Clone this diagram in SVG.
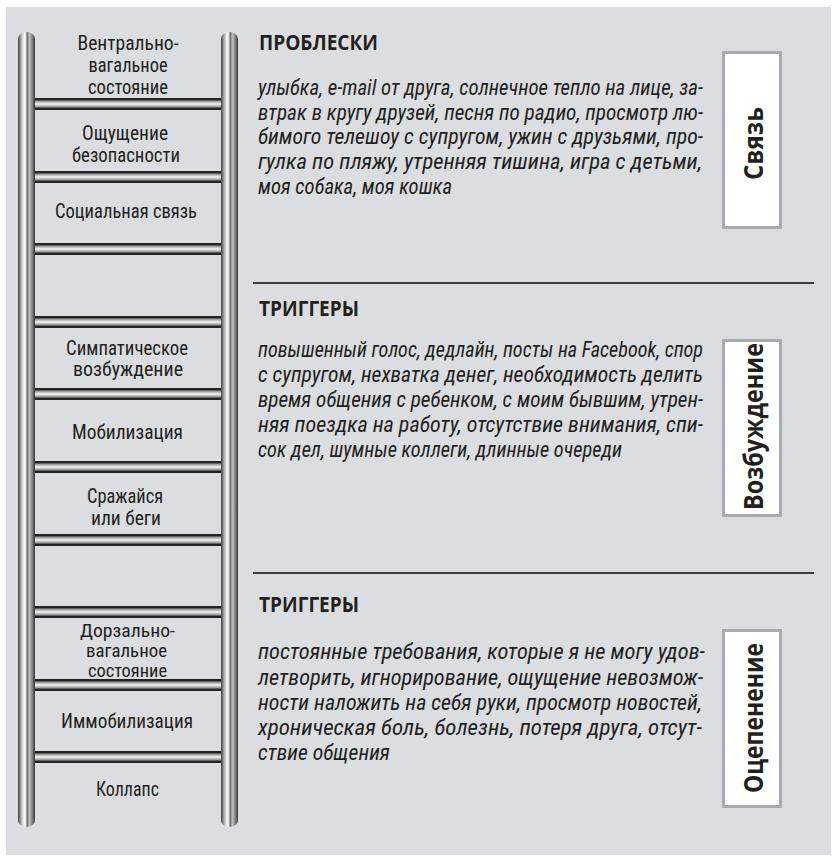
<svg xmlns="http://www.w3.org/2000/svg" width="838" height="862" viewBox="0 0 838 862">
<defs>
<linearGradient id="railGrad" x1="0" y1="0" x2="1" y2="0">
<stop offset="0" stop-color="#3a3a3a"/>
<stop offset="0.12" stop-color="#8a8a8a"/>
<stop offset="0.3" stop-color="#e6e6e6"/>
<stop offset="0.42" stop-color="#ffffff"/>
<stop offset="0.55" stop-color="#6a6a6a"/>
<stop offset="0.66" stop-color="#c4c4c4"/>
<stop offset="0.86" stop-color="#7a7a7a"/>
<stop offset="1" stop-color="#303030"/>
</linearGradient>
<linearGradient id="rungGrad" x1="0" y1="0" x2="0" y2="1">
<stop offset="0" stop-color="#232323"/>
<stop offset="0.16" stop-color="#232323"/>
<stop offset="0.24" stop-color="#8c8c8c"/>
<stop offset="0.5" stop-color="#f7f7f7"/>
<stop offset="0.76" stop-color="#8c8c8c"/>
<stop offset="0.84" stop-color="#232323"/>
<stop offset="1" stop-color="#232323"/>
</linearGradient>
</defs>
<style>
.lbl{font-family:"Liberation Sans Narrow","Roboto Condensed","DejaVu Sans Condensed",Roboto,sans-serif;font-size:21px;fill:#231f20;text-anchor:middle}
.tight{font-size:19px}
.head{font-family:"Open Sans","Noto Sans",sans-serif;font-weight:700;font-size:21px;fill:#231f20}
.body{font-family:"Liberation Sans Narrow","Roboto Condensed","DejaVu Sans Condensed",Roboto,sans-serif;font-style:italic;font-size:22px;fill:#231f20}
.vert{font-family:"Open Sans","Noto Sans",sans-serif;font-weight:700;font-size:27px;fill:#231f20;text-anchor:middle}
.box{fill:#ffffff;stroke:#a9abae;stroke-width:3}
.sep{stroke:#3c3c3c;stroke-width:2}
.rung{fill:url(#rungGrad)}
.rail{fill:url(#railGrad)}
</style>
<rect x="6" y="7" width="825" height="848" fill="#dcdde0"/>

<g id="ladder">
<rect class="rung" x="35" y="98" width="186" height="12"/>
<rect class="rung" x="35" y="171" width="186" height="12"/>
<rect class="rung" x="35" y="243" width="186" height="12"/>
<rect class="rung" x="35" y="316" width="186" height="12"/>
<rect class="rung" x="35" y="388" width="186" height="12"/>
<rect class="rung" x="35" y="461" width="186" height="12"/>
<rect class="rung" x="35" y="534" width="186" height="12"/>
<rect class="rung" x="35" y="606" width="186" height="12"/>
<rect class="rung" x="35" y="679" width="186" height="12"/>
<rect class="rung" x="35" y="751" width="186" height="12"/>
<rect class="rail" x="18" y="32" width="17" height="795" rx="8.5" ry="7"/>
<rect class="rail" x="221" y="32" width="17" height="795" rx="8.5" ry="7"/>
</g>

<g id="node-ventral">
<text class="lbl" x="128" y="50" textLength="101" lengthAdjust="spacingAndGlyphs">Вентрально-</text>
<text class="lbl" x="128" y="72" textLength="79" lengthAdjust="spacingAndGlyphs">вагальное</text>
<text class="lbl" x="128" y="94" textLength="80" lengthAdjust="spacingAndGlyphs">состояние</text>
</g>
<g id="node-safety">
<text class="lbl" x="125" y="140" textLength="86" lengthAdjust="spacingAndGlyphs">Ощущение</text>
<text class="lbl" x="126" y="162" textLength="108" lengthAdjust="spacingAndGlyphs">безопасности</text>
</g>
<g id="node-social">
<text class="lbl" x="126" y="218" textLength="142" lengthAdjust="spacingAndGlyphs">Социальная связь</text>
</g>
<g id="node-sympathetic">
<text class="lbl" x="127" y="355" textLength="122" lengthAdjust="spacingAndGlyphs">Симпатическое</text>
<text class="lbl" x="128" y="376" textLength="110" lengthAdjust="spacingAndGlyphs">возбуждение</text>
</g>
<g id="node-mobilization">
<text class="lbl" x="127.5" y="439" textLength="111" lengthAdjust="spacingAndGlyphs">Мобилизация</text>
</g>
<g id="node-fight">
<text class="lbl" x="125" y="503" textLength="76" lengthAdjust="spacingAndGlyphs">Сражайся</text>
<text class="lbl" x="126" y="525" textLength="70" lengthAdjust="spacingAndGlyphs">или беги</text>
</g>
<g id="node-dorsal">
<text class="lbl tight" x="127.5" y="637" textLength="95" lengthAdjust="spacingAndGlyphs">Дорзально-</text>
<text class="lbl tight" x="126.5" y="657" textLength="81" lengthAdjust="spacingAndGlyphs">вагальное</text>
<text class="lbl tight" x="127.5" y="677" textLength="79" lengthAdjust="spacingAndGlyphs">состояние</text>
</g>
<g id="node-immobilization">
<text class="lbl" x="127" y="728" textLength="132" lengthAdjust="spacingAndGlyphs">Иммобилизация</text>
</g>
<g id="node-collapse">
<text class="lbl" x="127.5" y="796" textLength="63" lengthAdjust="spacingAndGlyphs">Коллапс</text>
</g>

<g id="connectors">
<line class="sep" x1="253" y1="283" x2="814" y2="283"/>
<line class="sep" x1="253" y1="573" x2="814" y2="573"/>
</g>

<g id="section-glimmers">
<text class="head" x="259" y="50" textLength="119" lengthAdjust="spacingAndGlyphs">ПРОБЛЕСКИ</text>
<text class="body" x="258" y="95" textLength="445" lengthAdjust="spacingAndGlyphs">улыбка, e-mail от друга, солнечное тепло на лице, за-</text>
<text class="body" x="258" y="120" textLength="445" lengthAdjust="spacingAndGlyphs">втрак в кругу друзей, песня по радио, просмотр лю-</text>
<text class="body" x="258" y="144" textLength="445" lengthAdjust="spacingAndGlyphs">бимого телешоу с супругом, ужин с друзьями, про-</text>
<text class="body" x="258" y="169" textLength="444" lengthAdjust="spacingAndGlyphs">гулка по пляжу, утренняя тишина, игра с детьми,</text>
<text class="body" x="258" y="194" textLength="194" lengthAdjust="spacingAndGlyphs">моя собака, моя кошка</text>
</g>
<g id="node-connection">
<rect class="box" x="723.5" y="52.5" width="57" height="175"/>
<text class="vert" transform="translate(763,143.5) rotate(-90)" x="0" y="0" textLength="73" lengthAdjust="spacingAndGlyphs">Связь</text>
</g>

<g id="section-triggers-1">
<text class="head" x="259" y="316" textLength="100" lengthAdjust="spacingAndGlyphs">ТРИГГЕРЫ</text>
<text class="body" x="258" y="357" textLength="445" lengthAdjust="spacingAndGlyphs">повышенный голос, дедлайн, посты на Facebook, спор</text>
<text class="body" x="258" y="382" textLength="445" lengthAdjust="spacingAndGlyphs">с супругом, нехватка денег, необходимость делить</text>
<text class="body" x="258" y="407" textLength="445" lengthAdjust="spacingAndGlyphs">время общения с ребенком, с моим бывшим, утрен-</text>
<text class="body" x="258" y="432" textLength="445" lengthAdjust="spacingAndGlyphs">няя поездка на работу, отсутствие внимания, спи-</text>
<text class="body" x="258" y="457" textLength="364" lengthAdjust="spacingAndGlyphs">сок дел, шумные коллеги, длинные очереди</text>
</g>
<g id="node-arousal">
<rect class="box" x="723.5" y="340.5" width="57" height="175"/>
<text class="vert" transform="translate(763,426.5) rotate(-90)" x="0" y="0" textLength="167" lengthAdjust="spacingAndGlyphs">Возбуждение</text>
</g>

<g id="section-triggers-2">
<text class="head" x="259" y="612" textLength="100" lengthAdjust="spacingAndGlyphs">ТРИГГЕРЫ</text>
<text class="body" x="258" y="659" textLength="447" lengthAdjust="spacingAndGlyphs">постоянные требования, которые я не могу удов-</text>
<text class="body" x="258" y="685" textLength="445" lengthAdjust="spacingAndGlyphs">летворить, игнорирование, ощущение невозмож-</text>
<text class="body" x="258" y="710" textLength="444" lengthAdjust="spacingAndGlyphs">ности наложить на себя руки, просмотр новостей,</text>
<text class="body" x="258" y="735" textLength="444" lengthAdjust="spacingAndGlyphs">хроническая боль, болезнь, потеря друга, отсут-</text>
<text class="body" x="258" y="760" textLength="132" lengthAdjust="spacingAndGlyphs">ствие общения</text>
</g>
<g id="node-shutdown">
<rect class="box" x="723.5" y="630.5" width="57" height="176"/>
<text class="vert" transform="translate(763,718) rotate(-90)" x="0" y="0" textLength="150" lengthAdjust="spacingAndGlyphs">Оцепенение</text>
</g>
</svg>
